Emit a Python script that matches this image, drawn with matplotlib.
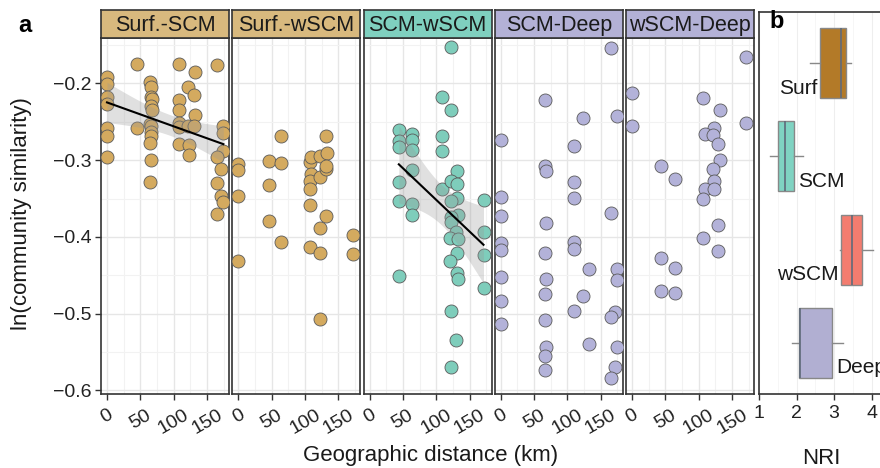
import matplotlib
matplotlib.use("Agg")
import matplotlib.pyplot as plt
import numpy as np

plt.rcParams['font.family'] = ['Liberation Sans', 'DejaVu Sans']

# ---- data ----
panel_titles = ["Surf.-SCM", "Surf.-wSCM", "SCM-wSCM", "SCM-Deep", "wSCM-Deep"]

surf_scm_km = [0, 0, 0, 0, 0, 0, 0, 44.5, 44.5,
               64.5, 66, 66, 67, 66, 67, 64.5, 66, 66, 66, 64.5, 66, 64.5,
               108.5, 108.5, 108.5, 108.5, 108.5, 108.5,
               122, 130.5, 132, 132, 121, 130.5, 123, 123,
               164.5, 174.5, 174.5, 174.5, 165.5, 171, 165.5, 171, 174.5, 165.5]
surf_scm_sim = [-0.191, -0.201, -0.218, -0.227, -0.258, -0.268, -0.296, -0.174, -0.258,
                -0.198, -0.205, -0.217, -0.220, -0.229, -0.234, -0.253, -0.256, -0.263, -0.269, -0.278, -0.300, -0.328,
                -0.174, -0.221, -0.234, -0.251, -0.257, -0.279,
                -0.205, -0.215, -0.185, -0.241, -0.255, -0.255, -0.280, -0.293,
                -0.176, -0.255, -0.265, -0.288, -0.296, -0.311, -0.330, -0.347, -0.354, -0.370]

surf_wscm_km = [0, 0, 0, 0, 45.5, 45.5, 45.5, 64, 64, 64,
                108, 109.5, 109.5, 108, 108, 108, 107,
                123, 123, 122, 122, 122, 131, 133, 131, 132, 131, 172, 172]
surf_wscm_sim = [-0.305, -0.313, -0.347, -0.431, -0.301, -0.332, -0.379, -0.268, -0.304, -0.406,
                 -0.303, -0.296, -0.318, -0.327, -0.338, -0.358, -0.413,
                 -0.295, -0.322, -0.388, -0.421, -0.507, -0.268, -0.290, -0.311, -0.308, -0.373, -0.397, -0.422]

scm_wscm_km = [122.5, 109, 122.5, 44, 44, 44, 44, 44, 44,
               63.5, 63.5, 63.5, 63.5, 63.5, 63.5, 109, 109, 109,
               131.5, 122.5, 131, 131, 121.5, 132.5, 121.5, 121.5, 130, 121, 132.5, 131, 121, 131, 132.5,
               121.5, 130, 121.5, 171, 171, 171, 171]
scm_wscm_sim = [-0.152, -0.218, -0.235, -0.260, -0.275, -0.283, -0.328, -0.353, -0.451,
                -0.266, -0.274, -0.287, -0.313, -0.357, -0.372, -0.268, -0.288, -0.337,
                -0.314, -0.327, -0.331, -0.349, -0.353, -0.371, -0.374, -0.381, -0.394, -0.402, -0.403, -0.421,
                -0.432, -0.447, -0.455, -0.497, -0.535, -0.570, -0.352, -0.393, -0.424, -0.467]

scm_deep_km = [0, 0, 0, 0, 0, 0, 0, 0,
               67, 67, 68.5, 68.5, 66, 68.5, 66, 67, 68.5, 66, 67,
               109.5, 109.5, 109.5, 109.5, 109.5, 109.5, 123.5, 123.5, 132.5, 132.5,
               166, 175, 166, 175, 175, 172, 166, 175, 172, 166]
scm_deep_sim = [-0.274, -0.348, -0.373, -0.408, -0.417, -0.452, -0.483, -0.513,
                -0.222, -0.307, -0.314, -0.382, -0.421, -0.455, -0.474, -0.508, -0.544, -0.555, -0.574,
                -0.281, -0.329, -0.349, -0.406, -0.416, -0.496, -0.245, -0.477, -0.442, -0.539,
                -0.154, -0.242, -0.369, -0.442, -0.456, -0.498, -0.504, -0.544, -0.569, -0.584]

wscm_deep_km = [170.5, 0, 0, 107, 132, 170.5, 123, 109.5, 121.5, 129.5, 132, 121.5, 44,
                64, 123, 109.5, 123, 107, 129.5, 107, 129.5, 44, 64, 44, 64]
wscm_deep_sim = [-0.166, -0.213, -0.256, -0.219, -0.234, -0.251, -0.258, -0.266, -0.267, -0.279, -0.300,
                 -0.311, -0.307, -0.324, -0.327, -0.337, -0.337, -0.351, -0.384, -0.401, -0.419, -0.427,
                 -0.441, -0.470, -0.473]

panel_km = [surf_scm_km, surf_wscm_km, scm_wscm_km, scm_deep_km, wscm_deep_km]
panel_sim = [surf_scm_sim, surf_wscm_sim, scm_wscm_sim, scm_deep_sim, wscm_deep_sim]
panel_fit = [True, False, True, False, False]

# panel b: NRI box stats
layers = ["Surf", "SCM", "wSCM", "Deep"]
nri_whislo = [2.36, 1.29, 3.16, 1.88]
nri_q1 = [2.63, 1.51, 3.19, 2.07]
nri_med = [3.19, 1.69, 3.48, 2.08]
nri_q3 = [3.32, 1.93, 3.75, 2.95]
nri_whishi = [3.45, 2.17, 4.04, 3.24]

# ---- styling ----
point_cols = ["#D4AA5F", "#D4AA5F", "#7ECDBB", "#B3B2D9", "#B3B2D9"]
strip_cols = ["#D8B97E", "#D8B97E", "#7FD0BF", "#B3B1D6", "#B3B1D6"]
box_cols = ["#B37A28", "#7FD3C2", "#F37C6F", "#B1AFD2"]
frame = "#333333"

W, H = 880, 468


def rect(l, r, t, b):
    return [l / W, 1 - b / H, (r - l) / W, (b - t) / H]


def add_fit(ax, x, y):
    x = np.asarray(x, float)
    y = np.asarray(y, float)
    n = len(x)
    b1, b0 = np.polyfit(x, y, 1)
    xs = np.linspace(x.min(), x.max(), 100)
    yhat = b0 + b1 * xs
    s = np.sqrt(np.sum((y - (b0 + b1 * x)) ** 2) / (n - 2))
    se = s * np.sqrt(1 / n + (xs - x.mean()) ** 2 / np.sum((x - x.mean()) ** 2))
    t = 2.02
    ax.fill_between(xs, yhat - t * se, yhat + t * se, color="#999999", alpha=0.3, lw=0, zorder=4)
    ax.plot(xs, yhat, color="black", lw=1.5, zorder=5)


fig = plt.figure(figsize=(8.8, 4.68), dpi=100)

lefts = [101, 232.3, 363.5, 494.8, 626]
for i in range(5):
    l = lefts[i]
    ax = fig.add_axes(rect(l, l + 128, 38, 394))
    ax.scatter(panel_km[i], panel_sim[i], s=88, c=point_cols[i], edgecolors="#5a5a5a",
               linewidths=0.6, zorder=3)
    if panel_fit[i]:
        add_fit(ax, panel_km[i], panel_sim[i])
    ax.set_xlim(-9, 183)
    ax.set_ylim(-0.6048, -0.1407)
    ax.set_xticks([0, 50, 100, 150])
    ax.set_xticks([25, 75, 125, 175], minor=True)
    ax.set_yticks([-0.2, -0.3, -0.4, -0.5, -0.6])
    ax.set_yticks([-0.15, -0.25, -0.35, -0.45, -0.55], minor=True)
    ax.grid(which="major", color="#E6E6E6", lw=1.0, zorder=0)
    ax.grid(which="minor", color="#F2F2F2", lw=0.8, zorder=0)
    ax.set_axisbelow(True)
    for sp in ax.spines.values():
        sp.set_color(frame)
        sp.set_linewidth(1.2)
    ax.tick_params(which="minor", length=0)
    ax.tick_params(which="major", length=4, width=1, color=frame, labelsize=14,
                   labelcolor="#222222", pad=3)
    ax.tick_params(axis="x", pad=5)
    ax.set_xticklabels(["0", "50", "100", "150"], rotation=30, ha="center")
    if i > 0:
        ax.tick_params(axis="y", left=False, labelleft=False)

    sax = fig.add_axes(rect(l, l + 128, 10, 38))
    sax.set_facecolor(strip_cols[i])
    sax.set_xticks([])
    sax.set_yticks([])
    for sp in sax.spines.values():
        sp.set_color(frame)
        sp.set_linewidth(1.2)
    sax.text(0.5, 0.45, panel_titles[i], transform=sax.transAxes, ha="center", va="center",
             fontsize=15.5, color="#1a1a1a")

# panel b
bx = fig.add_axes(rect(759, 886.5, 12, 394))
stats = []
for k in range(4):
    stats.append(dict(whislo=nri_whislo[k], q1=nri_q1[k], med=nri_med[k], q3=nri_q3[k],
                      whishi=nri_whishi[k], fliers=[]))
bp = bx.bxp(stats, positions=[1, 2, 3, 4], widths=0.75, orientation="horizontal",
            patch_artist=True, showcaps=False,
            boxprops=dict(edgecolor="#888888", linewidth=1.0),
            whiskerprops=dict(color="#888888", linewidth=1.0),
            medianprops=dict(color="#5f6a7a", linewidth=1.2))
for patch, col in zip(bp["boxes"], box_cols):
    patch.set_facecolor(col)
bx.set_xlim(0.99, 4.4)
bx.set_ylim(4.55, 0.45)
bx.set_yticks([])
bx.set_xticks([1, 2, 3, 4])
bx.set_xticks([1.5, 2.5, 3.5], minor=True)
bx.grid(axis="x", which="major", color="#EEEEEE", lw=0.8)
bx.grid(axis="x", which="minor", color="#F5F5F5", lw=0.6)
bx.set_axisbelow(True)
bx.tick_params(which="minor", length=0)
bx.tick_params(which="major", length=4, width=1, color=frame, labelsize=14,
               labelcolor="#222222", pad=4)
for sp in bx.spines.values():
    sp.set_color(frame)
    sp.set_linewidth(1.2)

label_side = ["left", "right", "left", "right"]
for k, name in enumerate(layers):
    if label_side[k] == "left":
        bx.annotate(name, (nri_q1[k], k + 1 + 0.27), xytext=(-2, 0), textcoords="offset points",
                    ha="right", va="center", fontsize=15, color="#1a1a1a")
    else:
        bx.annotate(name, (nri_q3[k], k + 1 + 0.27), xytext=(3, 0), textcoords="offset points",
                    ha="left", va="center", fontsize=15, color="#1a1a1a")

fig.text(25 / W, 1 - 26 / H, "a", fontsize=17, fontweight="bold", ha="center", va="center")
fig.text(777 / W, 1 - 22 / H, "b", fontsize=17, fontweight="bold", ha="center", va="center")
fig.text(22 / W, 1 - 214 / H, "ln(community similarity)", rotation=90, fontsize=16,
         ha="center", va="center", color="#1a1a1a")
fig.text(431 / W, 1 - 456 / H, "Geographic distance (km)", fontsize=16,
         ha="center", va="center", color="#1a1a1a")
fig.text(821 / W, 1 - 459 / H, "NRI", fontsize=16, ha="center", va="center", color="#1a1a1a")

fig.savefig("out.png", dpi=100)
